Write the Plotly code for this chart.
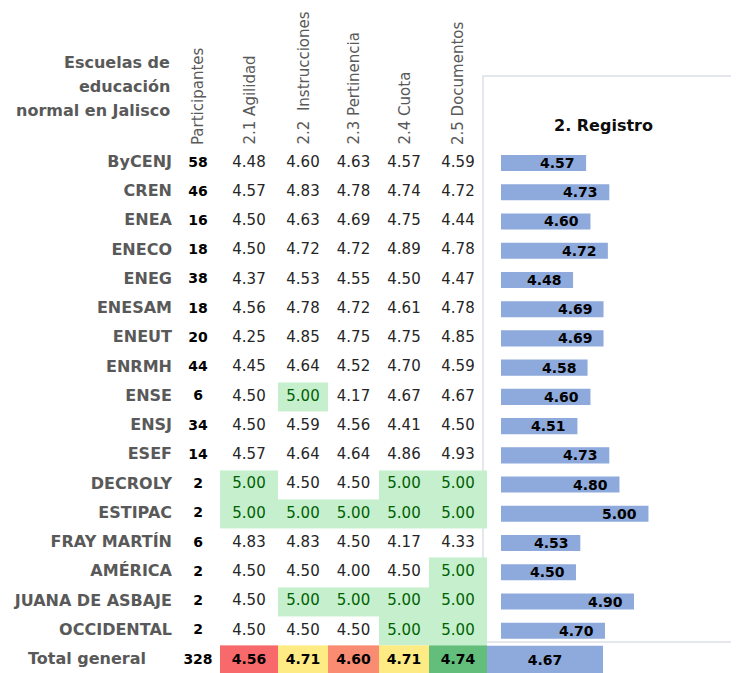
import plotly.graph_objects as go

# ---------------- data ----------------
schools = ["ByCENJ", "CREN", "ENEA", "ENECO", "ENEG", "ENESAM", "ENEUT", "ENRMH",
           "ENSE", "ENSJ", "ESEF", "DECROLY", "ESTIPAC", "FRAY MARTÍN", "AMÉRICA",
           "JUANA DE ASBAJE", "OCCIDENTAL"]
participants = [58, 46, 16, 18, 38, 18, 20, 44, 6, 34, 14, 2, 2, 6, 2, 2, 2]
col_labels = ["2.1 Agilidad", "2.2  Instrucciones", "2.3 Pertinencia", "2.4 Cuota", "2.5 Documentos"]
agilidad = [4.48, 4.57, 4.50, 4.50, 4.37, 4.56, 4.25, 4.45, 4.50, 4.50, 4.57, 5.00, 5.00, 4.83, 4.50, 4.50, 4.50]
instrucciones = [4.60, 4.83, 4.63, 4.72, 4.53, 4.78, 4.85, 4.64, 5.00, 4.59, 4.64, 4.50, 5.00, 4.83, 4.50, 5.00, 4.50]
pertinencia = [4.63, 4.78, 4.69, 4.72, 4.55, 4.72, 4.75, 4.52, 4.17, 4.56, 4.64, 4.50, 5.00, 4.50, 4.00, 5.00, 4.50]
cuota = [4.57, 4.74, 4.75, 4.89, 4.50, 4.61, 4.75, 4.70, 4.67, 4.41, 4.86, 5.00, 5.00, 4.17, 4.50, 5.00, 5.00]
documentos = [4.59, 4.72, 4.44, 4.78, 4.47, 4.78, 4.85, 4.59, 4.67, 4.50, 4.93, 5.00, 5.00, 4.33, 5.00, 5.00, 5.00]
registro = [4.57, 4.73, 4.60, 4.72, 4.48, 4.69, 4.69, 4.58, 4.60, 4.51, 4.73, 4.80, 5.00, 4.53, 4.50, 4.90, 4.70]
total_label = "Total general"
total_participants = 328
total_values = [4.56, 4.71, 4.60, 4.71, 4.74]
total_registro = 4.67
header_title = ["Escuelas de", "educación", "normal en Jalisco"]
chart_title = "2. Registro"

# ---------------- layout constants ----------------
WIN_W, WIN_H = 739, 673
OFF = 8                       # page body margin
W, H = WIN_W - OFF, WIN_H - OFF
FONT = "DejaVu Sans"
GREY = "#595959"


def fx(px):
    """window pixel -> figure x coordinate"""
    return px - OFF


col_edges = [fx(p) for p in (220, 278, 328, 379, 429, 487)]
col_centers = [(a + b) / 2 for a, b in zip(col_edges[:-1], col_edges[1:])]
part_x = fx(198)
label_x = fx(172)
row0_px, row_step = 163 - OFF, 29.235
y_top = -row0_px / row_step
y_bot = (H - row0_px) / row_step


def fy(px):
    """window pixel -> row units"""
    return (px - OFF - row0_px) / row_step


columns = [agilidad, instrucciones, pertinencia, cuota, documentos]
n = len(schools)
rows = list(range(n))
total_row = n

fig = go.Figure()

# table background (green fill where value == 5)
z = [[1 if columns[c][r] >= 5.0 else 0 for c in range(5)] for r in range(n)]
fig.add_trace(go.Heatmap(x=col_edges, y=rows, z=z, zmin=0, zmax=1,
                         colorscale=[[0, "rgba(255,255,255,0)"], [1, "#C6EFCE"]],
                         showscale=False, hoverinfo="skip"))
# total row colour scale (3-colour: min red, median yellow, max green)
tmin, tmax = min(total_values), max(total_values)
tmed = sorted(total_values)[len(total_values) // 2]
mid = (tmed - tmin) / (tmax - tmin)
fig.add_trace(go.Heatmap(x=col_edges, y=[total_row], z=[total_values], zmin=tmin, zmax=tmax,
                         colorscale=[[0, "#F8696B"], [mid, "#FFEB84"], [1, "#63BE7B"]],
                         showscale=False, hoverinfo="skip"))

# cell texts
xs, ys, ts, cs = [], [], [], []
for c in range(5):
    for r in range(n):
        v = columns[c][r]
        xs.append(col_centers[c]); ys.append(r); ts.append(f"{v:.2f}")
        cs.append("#006100" if v >= 5.0 else "#262626")
fig.add_trace(go.Scatter(x=xs, y=ys, text=ts, mode="text", textposition="middle center",
                         textfont=dict(family=FONT, size=15, color=cs), hoverinfo="skip"))
# total row texts
fig.add_trace(go.Scatter(x=col_centers, y=[total_row] * 5, text=[f"{v:.2f}" for v in total_values],
                         mode="text", textposition="middle center",
                         textfont=dict(family=FONT, size=14, color="#000000", weight="bold"),
                         hoverinfo="skip"))
# row labels
fig.add_trace(go.Scatter(x=[label_x] * n, y=rows, text=schools, mode="text",
                         textposition="middle left",
                         textfont=dict(family=FONT, size=16, color=GREY, weight="bold"),
                         hoverinfo="skip"))
fig.add_trace(go.Scatter(x=[fx(28)], y=[total_row], text=[total_label], mode="text",
                         textposition="middle right",
                         textfont=dict(family=FONT, size=16, color=GREY, weight="bold"),
                         hoverinfo="skip"))
# participants
fig.add_trace(go.Scatter(x=[part_x] * (n + 1), y=rows + [total_row],
                         text=[str(p) for p in participants] + [str(total_participants)],
                         mode="text", textposition="middle center",
                         textfont=dict(family=FONT, size=14, color="#000000", weight="bold"),
                         hoverinfo="skip"))

# bars (right panel)
bar_min = 3.983
bar_x0, bar_x1 = fx(501), fx(730)
bar_max = bar_min + (bar_x1 - bar_x0) / 145.0
fig.add_trace(go.Bar(x=registro, y=rows, orientation="h",
                     xaxis="x2", yaxis="y", width=0.55,
                     marker=dict(color="#8EA9DB", line=dict(width=0)), hoverinfo="skip"))
# total bar
tb_x0 = fx(487)
fig.add_trace(go.Bar(x=[total_registro], y=[total_row], orientation="h",
                     xaxis="x3", yaxis="y", width=0.97,
                     text=[f"{total_registro:.2f}"], textposition="inside",
                     insidetextanchor="middle",
                     textfont=dict(family=FONT, size=14, color="#000000", weight="bold"),
                     marker=dict(color="#8EA9DB", line=dict(width=0)), hoverinfo="skip"))

annotations = []
for v, r in zip(registro, rows):
    annotations.append(dict(x=v, y=r, xref="x2", yref="y",
                            text=f"{v:.2f}", showarrow=False, xanchor="right",
                            xshift=-9, yanchor="middle",
                            font=dict(family=FONT, size=14, color="#000000", weight="bold")))

# column headers (rotated)
hdr_y = fy(147)
annotations.append(dict(x=part_x, y=hdr_y, xref="x", yref="y", text="Participantes",
                        textangle=-90, showarrow=False, xanchor="center", yanchor="bottom",
                        font=dict(family=FONT, size=15, color=GREY)))
for lbl, cx in zip(col_labels, col_centers):
    annotations.append(dict(x=cx, y=hdr_y, xref="x", yref="y", text=lbl,
                            textangle=-90, showarrow=False, xanchor="center", yanchor="bottom",
                            font=dict(family=FONT, size=15, color=GREY)))
# left header title
for i, line in enumerate(header_title):
    annotations.append(dict(x=label_x, y=fy(62 + 24 * i), xref="x", yref="y",
                            text=line, showarrow=False, xanchor="right", yanchor="middle",
                            font=dict(family=FONT, size=16, color=GREY, weight="bold")))
# chart title
annotations.append(dict(x=fx(603), y=fy(125), xref="x", yref="y",
                        text=chart_title, showarrow=False, xanchor="center", yanchor="middle",
                        font=dict(family=FONT, size=16, color="#0d0d0d", weight="bold")))

fig.update_layout(
    width=W, height=H, margin=dict(l=0, r=0, t=0, b=0),
    paper_bgcolor="white", plot_bgcolor="rgba(0,0,0,0)",
    showlegend=False, barmode="overlay",
    xaxis=dict(range=[0, W], domain=[0, 1], visible=False, fixedrange=True),
    yaxis=dict(range=[y_bot, y_top], domain=[0, 1], visible=False, fixedrange=True),
    xaxis2=dict(range=[bar_min, bar_max], domain=[bar_x0 / W, bar_x1 / W], anchor="y",
                visible=False, fixedrange=True),
    xaxis3=dict(range=[0, 5.0], domain=[tb_x0 / W, (tb_x0 + 5.0 / total_registro * 116) / W],
                anchor="y", visible=False, fixedrange=True),
    annotations=annotations,
    shapes=[dict(type="rect", xref="x", yref="y", x0=fx(483), x1=fx(738),
                 y0=fy(642), y1=fy(76), line=dict(color="#DCE0E6", width=1.5),
                 layer="below")],
)

fig.write_html("out.html")
